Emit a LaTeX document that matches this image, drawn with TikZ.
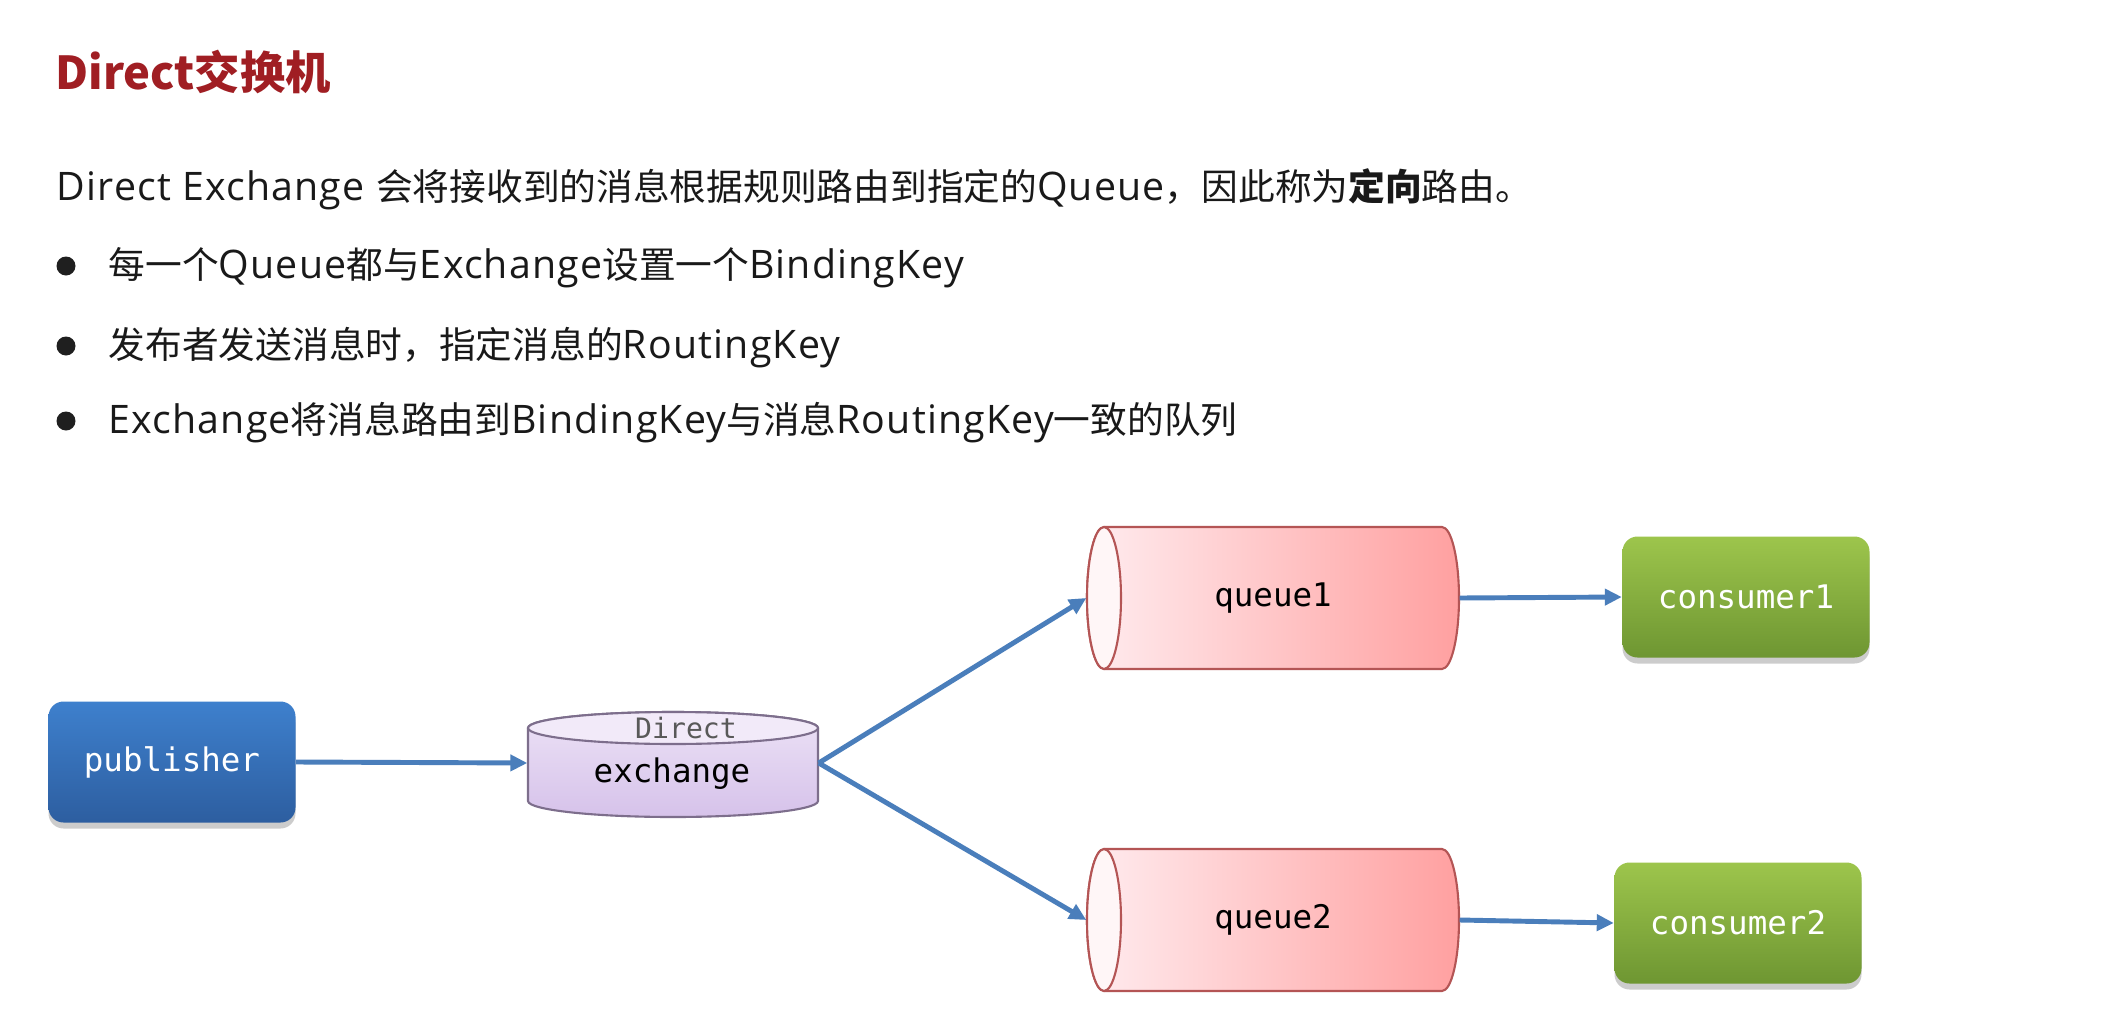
\documentclass[tikz,border=0pt]{standalone}
\usepackage{fontspec}
\setmainfont{Open Sans}[Scale=1.07,LetterSpace=3]
\newfontfamily\cjk{Noto Sans CJK SC}
\setmonofont{DejaVu Sans Mono}
\usetikzlibrary{arrows.meta,shadows}
\definecolor{titlered}{RGB}{160,30,35}
\definecolor{linkblue}{RGB}{74,126,187}
\definecolor{pubtop}{RGB}{62,128,205}
\definecolor{pubbot}{RGB}{45,94,160}
\definecolor{constop}{RGB}{157,197,76}
\definecolor{consbot}{RGB}{110,150,50}
\definecolor{extop}{RGB}{236,226,246}
\definecolor{exbot}{RGB}{214,194,234}
\definecolor{exface}{RGB}{242,234,249}
\definecolor{exline}{RGB}{125,110,140}
\definecolor{qleft}{RGB}{255,236,239}
\definecolor{qright}{RGB}{255,160,160}
\definecolor{qface}{RGB}{255,246,247}
\definecolor{qline}{RGB}{180,85,85}
\begin{document}
\begin{tikzpicture}[x=0.1mm,y=-0.1mm,
  textline/.style={anchor=base west,inner sep=0pt,font=\fontsize{10.45}{12}\selectfont,text=black!90},
  mono/.style={inner sep=0pt,font=\ttfamily\fontsize{9.25}{11}\selectfont},
  box/.style={mono,rounded corners=1.5mm,minimum width=24.7mm,minimum height=12.1mm,text=white,
    drop shadow={shadow xshift=0mm,shadow yshift=-0.6mm,opacity=0.2,fill=black}},
  pubbox/.style={box,top color=pubtop,bottom color=pubbot},
  consbox/.style={box,top color=constop,bottom color=consbot},
  flow/.style={draw=linkblue,line width=1.4pt,-{Triangle[length=1.7mm,width=1.6mm]}}]
\fill[white] (0,0) rectangle (2125,1015);
\useasboundingbox (0,0) rectangle (2125,1015);

\node[textline,text=titlered,font=\cjk\fontsize{12.9}{16}\selectfont\bfseries] (title) at (55,90) {Direct交换机};
\node[textline] (intro) at (56,200) {Direct Exchange {\cjk 会将接收到的消息根据规则路由到指定的}Queue{\cjk ，因此称为\textbf{定向}路由。}};
\node[textline] (item1) at (108,278) {{\cjk 每一个}Queue{\cjk 都与}Exchange{\cjk 设置一个}BindingKey};
\node[textline] (item2) at (108,358) {{\cjk 发布者发送消息时，指定消息的}RoutingKey};
\node[textline] (item3) at (108,433) {Exchange{\cjk 将消息路由到}BindingKey{\cjk 与消息}RoutingKey{\cjk 一致的队列}};
\foreach \y in {266,346,421}
  \fill[black!88] (66,\y) circle (9.5);

\shade[top color=extop,bottom color=exbot,draw=exline,line width=0.6pt]
  (528,728) -- (528,801) arc[start angle=180,end angle=0,x radius=145,y radius=16]
  -- (818,728) arc[start angle=0,end angle=-180,x radius=145,y radius=16] -- cycle;
\filldraw[fill=exface,draw=exline,line width=0.6pt] (673,728) ellipse[x radius=145,y radius=16];

\foreach \y in {598,920} {
  \shade[left color=qleft,right color=qright,draw=qline,line width=0.6pt]
    (1104,\y-71) -- (1442,\y-71) arc[start angle=-90,end angle=90,x radius=17,y radius=71]
    -- (1104,\y+71) arc[start angle=90,end angle=270,x radius=17,y radius=71] -- cycle;
  \filldraw[fill=qface,draw=qline,line width=0.6pt] (1104,\y) ellipse[x radius=17,y radius=71];
}

\node[pubbox] (publisher) at (172,762) {publisher};
\node[inner sep=0pt,minimum width=29mm,minimum height=10.5mm] (exchange) at (673,763) {};
\node[mono] (exname) at (672,774) {exchange};
\node[mono,text=black!65,font=\ttfamily\fontsize{8}{10}\selectfont] (extype) at (686,728) {Direct};
\node[mono,minimum width=37.2mm,minimum height=14.2mm] (queue1) at (1273,598) {queue1};
\node[mono,minimum width=37.2mm,minimum height=14.2mm] (queue2) at (1273,920) {queue2};
\node[consbox] (consumer1) at (1746,597) {consumer1};
\node[consbox] (consumer2) at (1738,923) {consumer2};

\draw[flow] (publisher.east) -- (exchange.west);
\draw[flow] (exchange.east) -- (queue1.west);
\draw[flow] (exchange.east) -- (queue2.west);
\draw[flow] (queue1.east) -- (consumer1.west);
\draw[flow] (queue2.east) -- (consumer2.west);
\end{tikzpicture}
\end{document}
